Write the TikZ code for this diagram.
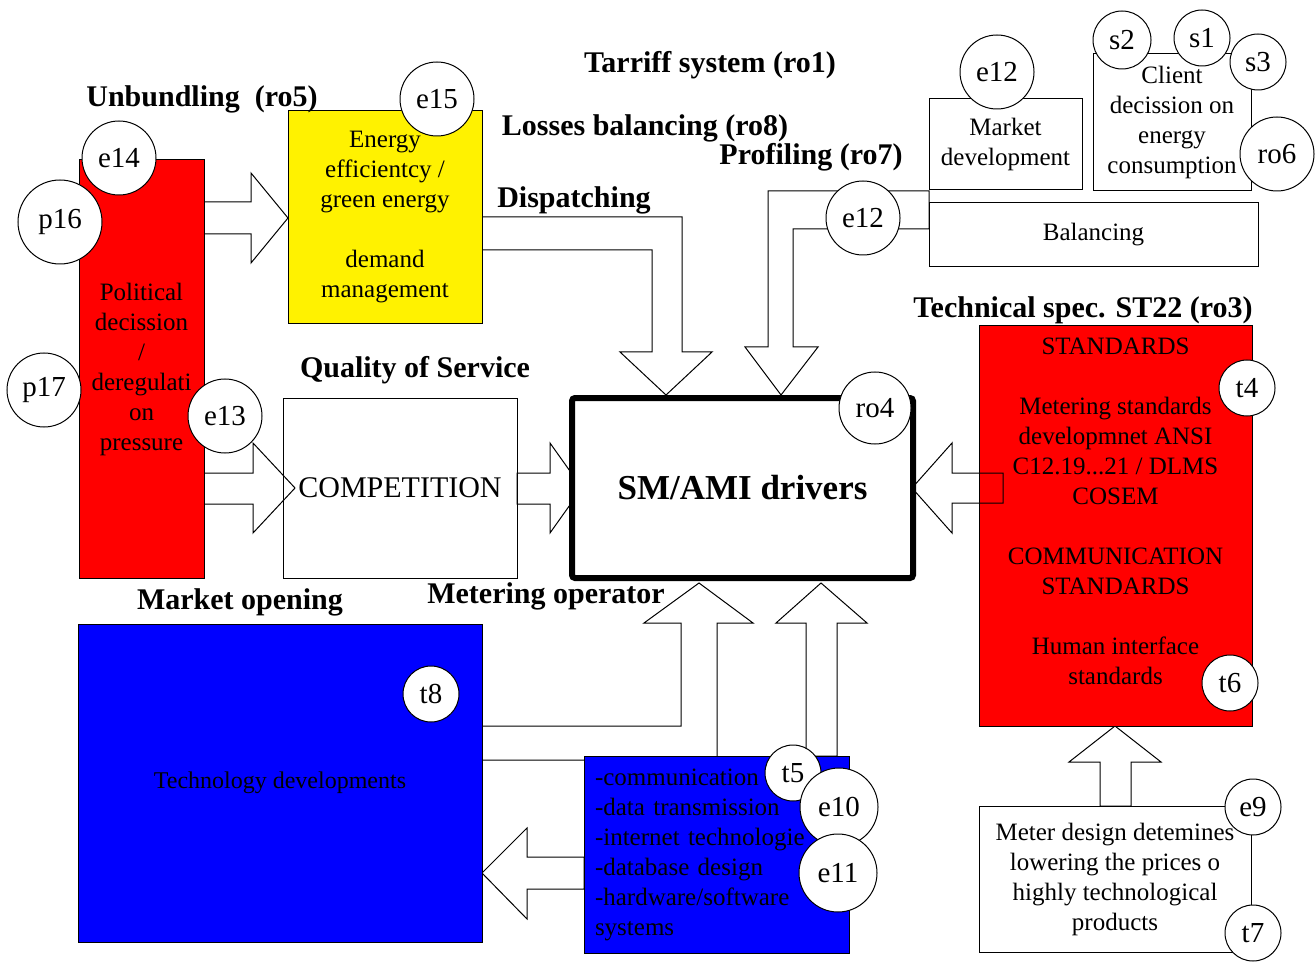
\documentclass[tikz,border=0pt]{standalone}
\usepackage{fontspec}
\setmainfont{Liberation Serif}
\usetikzlibrary{positioning}
\tikzset{
  box/.style = {draw, line width=0.5pt, inner sep=0pt, align=center,
                font=\fontsize{12.5}{15}\selectfont},
  bubble/.style = {circle, draw, fill=white, line width=0.5pt, inner sep=0pt,
                   minimum size=#1, font=\fontsize{14.5}{16}\selectfont},
  bubble/.default = 37pt,
  heading/.style = {inner sep=0pt, font=\bfseries\fontsize{15}{18}\selectfont},
  fat/.style = {draw, fill=white, line width=0.5pt},
}
\begin{document}
\begin{tikzpicture}[x=0.5pt, y=-0.5pt]
\useasboundingbox (0,0) rectangle (1316,962);

% block arrows
\draw[fat] (204,202) -- (251,202) -- (251,173) -- (288,218) -- (251,263) -- (251,234) -- (204,234) -- cycle;
\draw[fat] (204,473) -- (253,473) -- (253,443) -- (295,488) -- (253,533) -- (253,504) -- (204,504) -- cycle;
\draw[fat] (517,473) -- (550,473) -- (550,443) -- (582,488) -- (550,533) -- (550,504) -- (517,504) -- cycle;
\draw[fat] (482,217) -- (682,217) -- (682,352) -- (712,352) -- (666,395) -- (620,352) -- (652,352) -- (652,250) -- (482,250) -- cycle;
\draw[fat] (929,191) -- (768,191) -- (768,347) -- (745,347) -- (781,395) -- (818,347) -- (793,347) -- (793,229) -- (929,229) -- cycle;
\draw[fat] (482,726) -- (681,726) -- (681,623) -- (644,623) -- (699,583) -- (753,623) -- (717,623) -- (717,760) -- (482,760) -- cycle;
\draw[fat] (806,756) -- (806,623) -- (776,623) -- (821,583) -- (867,623) -- (837,623) -- (837,756) -- cycle;
\draw[fat] (584,857) -- (527,857) -- (527,828) -- (482,873) -- (527,919) -- (527,889) -- (584,889) -- cycle;
\draw[fat] (1100,806) -- (1100,762) -- (1069,762) -- (1115,726) -- (1161,762) -- (1131,762) -- (1131,806) -- cycle;

% boxes
\node[box, fill=red, minimum width=62.5pt, minimum height=209pt] (pol) at (141.5,369)
  {Political\\decission\\/\\deregulati\\on\\pressure};
\node[box, fill=yellow, minimum width=97pt, minimum height=106.5pt] (eff) at (385,217.5)
  {Energy\\efficientcy /\\green energy\\[15pt]demand\\management};
\node[box, minimum width=117pt, minimum height=90pt, font=\fontsize{15}{18}\selectfont] (comp) at (400,488) {COMPETITION};

\node[box, fill=red, minimum width=136.5pt, minimum height=200pt] (std) at (1115.5,526) {};
\node[box, draw=none, below=6pt of std.north] (stdtxt)
  {STANDARDS\\[15pt]Metering standards\\developmnet ANSI\\C12.19...21 / DLMS\\COSEM\\[15pt]COMMUNICATION\\STANDARDS\\[15pt]Human interface\\standards};
\draw[line width=0.5pt] (912,488) -- (952,443) -- (952,473) -- (1003,473) -- (1003,503) -- (952,503) -- (952,533) -- cycle;

\node[box, fill=white, line width=3pt, rounded corners=1.5pt, minimum width=170.5pt, minimum height=90pt,
      font=\bfseries\fontsize{17.5}{21}\selectfont] (drv) at (742.5,488) {SM/AMI drivers};
\node[box, minimum width=76.5pt, minimum height=45.5pt] (mkt) at (1005.5,144.5) {Market\\development};
\node[box, minimum width=79pt, minimum height=68.5pt] (cli) at (1172,122.5) {Client\\decission on\\energy\\consumption};
\node[box, minimum width=164.5pt, minimum height=32pt] (bal) at (1093.5,235) {Balancing};
\node[box, minimum width=136pt, minimum height=73pt] (mtr) at (1115,879)
  {Meter design detemines\\lowering the prices o\\highly technological\\products};
\node[box, fill=blue, minimum width=202pt, minimum height=159pt, font=\fontsize{12}{14}\selectfont] (tech) at (280,783) {Technology developments};
\node[box, fill=blue, minimum height=98.5pt, text width=121.5pt, inner xsep=5.5pt, align=left] (com) at (716.5,854.5)
  {-communication\\-data transmission\\-internet technologie\\-database design\\-hardware/software\\systems};

% circles
\node[bubble] (e15) at (437,99) {e15};
\node[bubble] (e14) at (119,158) {e14};
\node[bubble=42pt] (p16) at (60,222) {p16};
\node[bubble] (p17) at (44,390) {p17};
\node[bubble] (e13) at (225,416) {e13};
\node[bubble=36pt] (ro4) at (875,408) {ro4};
\node[bubble] (e12a) at (997,72) {e12};
\node[bubble] (e12b) at (863,218) {e12};
\node[bubble=29pt] (s2) at (1122,40) {s2};
\node[bubble=28pt] (s1) at (1202,38) {s1};
\node[bubble=28pt] (s3) at (1258,62) {s3};
\node[bubble] (ro6) at (1277,154) {ro6};
\node[bubble=28pt] (t4) at (1247,388) {t4};
\node[bubble=28pt] (t6) at (1230,683) {t6};
\node[bubble=28pt] (e9) at (1253,807) {e9};
\node[bubble=28pt] (t7) at (1253,933) {t7};
\node[bubble=28pt] (t8) at (431,694) {t8};
\node[bubble=28pt] (t5) at (793,773) {t5};
\node[bubble=39pt] (e10) at (839,807) {e10};
\node[bubble=39pt] (e11) at (838,873) {e11};

% headings
\node[heading] (ro5) at (202,99.5) {Unbundling\ \ (ro5)};
\node[heading] (ro1) at (710,65.5) {Tarriff system (ro1)};
\node[heading] (ro8) at (645,128.5) {Losses balancing (ro8)};
\node[heading] (ro7) at (811,157.5) {Profiling (ro7)};
\node[heading] (disp) at (574,200.5) {Dispatching};
\node[heading] (qos) at (415,370.5) {Quality of Service};
\node[heading] (mop) at (240,602.5) {Market opening};
\node[heading] (mtrop) at (546,596.5) {Metering operator};
\node[heading] (ro3) at (1083,310.5) {Technical spec. ST22 (ro3)};
\end{tikzpicture}
\end{document}
